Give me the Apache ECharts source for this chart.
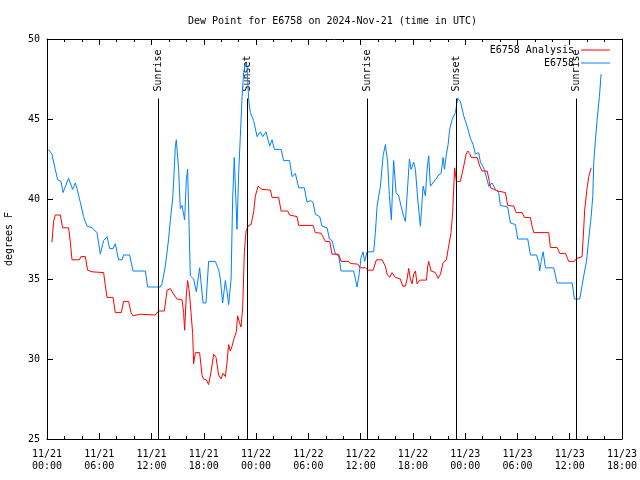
<!DOCTYPE html>
<html><head><meta charset="utf-8">
<script src="https://cdn.jsdelivr.net/npm/echarts@6/dist/echarts.min.js"></script>
<style>html,body{margin:0;padding:0;background:#fff}#c{width:640px;height:480px}</style>
</head><body><div id="c"></div>
<script>
// hours since 2024-11-21 00:00 UTC
const xTickLabels = ["11/21\n00:00","11/21\n06:00","11/21\n12:00","11/21\n18:00","11/22\n00:00","11/22\n06:00","11/22\n12:00","11/22\n18:00","11/23\n00:00","11/23\n06:00","11/23\n12:00","11/23\n18:00"];
const sunTimes = [12.81, 23.03, 36.81, 47.03, 60.80];
const sunNames = ["Sunrise","Sunset","Sunrise","Sunset","Sunrise"];
const sunLineTop = 46.28;

const obsHours = [0.18,0.57,0.95,1.22,1.61,1.84,2.48,2.94,3.25,3.44,3.82,4.20,4.59,5.17,5.74,6.12,6.50,6.89,7.19,7.58,7.84,8.22,8.61,8.79,9.48,9.87,11.29,11.55,13.01,13.20,13.58,13.96,14.16,14.42,14.53,14.73,14.84,15.11,15.30,15.50,15.61,15.80,15.99,16.14,16.30,16.45,16.83,17.14,17.52,17.91,18.25,18.55,19.32,19.70,19.90,20.16,20.47,20.67,20.85,21.13,21.31,21.50,21.62,21.81,22.00,22.19,22.39,22.57,22.77,22.96,23.15,23.34,23.72,24.11,24.49,24.75,25.14,25.56,25.83,26.10,26.87,27.16,27.85,28.13,28.51,28.89,29.54,29.85,30.23,30.54,30.80,31.30,31.57,32.15,32.41,32.72,32.90,33.10,33.48,33.75,35.20,35.40,35.59,35.78,36.05,36.28,36.46,36.74,37.50,37.69,37.89,38.27,38.58,38.84,39.10,39.30,39.53,39.79,40.07,40.37,40.64,40.94,41.14,41.60,41.79,42.09,42.29,42.55,42.86,43.17,43.43,43.63,43.81,44.01,44.58,44.96,45.24,45.47,45.62,45.84,46.04,46.22,46.50,46.88,47.14,47.45,47.83,48.22,48.60,48.91,49.17,49.55,49.75,50.13,50.52,50.70,51.09,51.47,51.85,52.04,52.88,53.19,53.77,54.03,55.18,55.49,56.18,56.44,56.55,56.72,56.95,57.21,58.16,58.55,60.28,60.54,61.15,61.42,61.61,61.92,62.18,62.46,62.65,62.76,62.95,63.15,63.41,63.60];
const obsValues = [43.1,42.8,41.85,41.2,41.1,40.4,41.3,40.6,41.0,40.65,39.8,38.9,38.3,38.2,37.9,36.55,37.4,37.65,36.9,36.9,37.2,36.2,36.2,36.5,36.5,35.5,35.5,34.5,34.5,34.7,35.8,37.5,38.7,40.0,41.0,43.3,43.7,41.85,39.4,39.6,39.25,38.7,41.2,41.85,38.5,35.2,35.0,34.2,35.7,33.5,33.5,36.1,36.1,35.6,35.0,33.5,34.9,34.2,33.4,35.0,40.0,42.6,40.8,38.1,41.6,43.9,46.4,47.9,48.5,48.3,46.2,45.4,44.9,43.9,44.2,43.9,44.2,43.3,43.7,43.1,43.1,42.4,42.4,41.4,41.6,40.7,40.7,39.8,39.9,39.8,39.05,38.9,38.3,38.2,37.5,37.4,37.0,36.55,36.45,35.5,35.5,35.0,34.5,35.1,36.35,36.7,36.1,36.7,36.7,37.9,39.55,40.8,42.7,43.4,42.3,40.2,38.7,42.4,40.4,40.2,39.55,38.9,38.6,42.5,41.85,42.3,41.85,40.0,38.3,40.8,40.2,41.85,42.7,40.8,41.2,41.5,41.6,42.6,41.85,42.8,43.4,44.35,44.97,45.4,46.3,46.1,45.2,44.55,43.8,43.4,42.8,42.9,42.3,41.95,41.2,40.8,41.0,40.6,40.4,39.6,39.5,38.5,38.4,37.5,37.5,36.5,36.5,36.05,35.5,36.1,36.7,35.7,35.7,34.75,34.75,33.75,33.75,34.6,35.2,36.1,37.5,38.9,40.2,42.3,43.7,45.0,46.4,47.8];

const anaHours = [0.57,0.76,0.95,1.53,1.79,2.48,2.68,2.87,3.71,3.90,4.40,4.66,5.17,6.50,6.69,6.89,7.58,7.84,8.53,8.79,9.37,9.64,9.87,10.71,12.43,12.81,13.47,13.78,14.16,14.53,14.93,15.50,15.68,15.80,15.99,16.14,16.34,16.53,16.72,16.83,17.03,17.52,17.80,17.98,18.29,18.55,18.83,19.13,19.40,19.70,19.98,20.21,20.47,20.67,20.85,21.04,21.24,21.42,21.73,21.88,22.08,22.27,22.46,22.65,22.85,23.15,23.42,23.72,23.92,24.23,24.68,25.64,25.83,26.59,26.87,27.62,27.85,28.70,28.89,30.54,30.80,31.46,31.95,32.45,32.72,33.48,33.75,34.63,34.82,35.66,35.97,36.54,36.85,37.43,37.81,38.46,38.84,39.04,39.33,39.61,39.99,40.56,40.83,41.14,41.33,41.52,41.71,41.91,42.09,42.29,42.48,42.78,43.55,43.70,43.81,44.09,44.58,44.89,45.16,45.47,45.84,46.11,46.38,46.56,46.79,46.99,47.45,47.65,47.83,48.11,48.29,48.52,48.68,49.37,49.67,49.94,50.52,50.78,50.90,51.73,52.62,52.88,53.57,53.85,54.54,54.80,55.49,55.68,55.87,57.59,57.78,58.55,58.85,59.51,59.70,59.88,60.54,60.77,61.42,61.61,61.72,62.00,62.18,62.46];
const anaValues = [37.3,38.6,39.0,39.0,38.2,38.2,37.3,36.2,36.2,36.4,36.4,35.55,35.45,35.4,34.6,33.85,33.85,32.9,32.9,33.6,33.6,32.9,32.7,32.8,32.75,33.0,33.0,34.3,34.4,34.05,33.75,33.7,32.9,31.8,34.0,34.9,34.2,32.9,31.6,29.7,30.4,30.4,28.96,28.75,28.7,28.4,29.2,30.3,30.1,29.0,28.75,29.1,28.9,29.8,30.9,30.5,30.8,31.2,31.7,32.7,32.3,32.0,33.2,36.65,38.0,38.35,38.4,39.2,40.2,40.8,40.6,40.56,40.1,40.1,39.25,39.25,39.0,38.9,38.35,38.35,37.9,37.86,37.35,37.35,36.55,36.55,36.1,36.1,35.97,35.93,35.7,35.7,35.55,35.55,36.2,36.2,35.8,35.3,35.1,35.4,35.1,35.0,34.55,34.55,35.0,35.66,35.0,34.7,35.3,35.5,34.7,34.93,34.93,35.8,36.1,35.5,35.4,35.04,35.3,36.03,36.2,37.07,37.9,39.15,41.95,41.1,41.1,41.6,42.05,42.8,43.0,42.85,42.6,42.6,42.05,41.75,41.75,41.1,40.7,40.5,40.4,39.6,39.56,39.15,39.15,38.84,38.84,38.3,37.9,37.9,36.97,36.97,36.6,36.6,36.35,36.1,36.1,36.28,36.4,38.2,39.36,40.7,41.4,41.95];

const zip = (a, b) => a.map((v, i) => [v, b[i]]);
const FONT = "'DejaVu Sans Mono', 'Liberation Mono', monospace";
const txt = {color: '#000', fontFamily: FONT, fontSize: 10};

const xBase = {
  type: 'value', min: 0, max: 66, interval: 6,
  axisLine: {show: true, onZero: false, lineStyle: {color: '#000', width: 1}},
  axisTick: {show: true, inside: true, length: 6, lineStyle: {color: '#000'}},
  minorTick: {show: true, splitNumber: 3, length: 3, lineStyle: {color: '#000'}},
  splitLine: {show: false}, minorSplitLine: {show: false}
};
const yBase = {
  type: 'value', min: 25, max: 50, interval: 5,
  axisLine: {show: true, onZero: false, lineStyle: {color: '#000', width: 1}},
  axisTick: {show: true, inside: true, length: 6, lineStyle: {color: '#000'}},
  splitLine: {show: false}
};
const legendBase = {right: 30, align: 'right', icon: 'rect', itemWidth: 29, itemHeight: 1,
  textStyle: Object.assign({}, txt, {padding: [0, 2, 0, 0]}), selectedMode: false, padding: 0};

const chart = echarts.init(document.getElementById('c'), null, {renderer: 'canvas'});
chart.setOption({
  animation: false,
  backgroundColor: '#fff',
  title: {text: 'Dew Point for E6758 on 2024-Nov-21 (time in UTC)', left: 188, top: 15, padding: 0,
    textStyle: Object.assign({}, txt, {fontWeight: 'normal', lineHeight: 12})},
  grid: {left: 47, right: 18, top: 39, bottom: 41, containLabel: false, outerBoundsMode: 'none'},
  legend: [
    Object.assign({}, legendBase, {data: ['E6758 Analysis'], top: 45}),
    Object.assign({}, legendBase, {data: ['E6758'], top: 58})
  ],
  xAxis: [
    Object.assign({}, xBase, {position: 'bottom',
      axisLabel: Object.assign({}, txt, {margin: 9, lineHeight: 12,
        formatter: v => xTickLabels[Math.round(v / 6)]})}),
    Object.assign({}, xBase, {position: 'top', axisLabel: {show: false}})
  ],
  yAxis: [
    Object.assign({}, yBase, {position: 'left', name: 'degrees F', nameLocation: 'middle', nameGap: 33,
      nameRotate: 90, nameTextStyle: txt, axisLabel: Object.assign({}, txt, {margin: 7})}),
    Object.assign({}, yBase, {position: 'right', axisLabel: {show: false}})
  ],
  series: [
    {name: 'E6758 Analysis', type: 'line', data: zip(anaHours, anaValues), showSymbol: false, symbol: 'none',
     lineStyle: {color: '#ff0000', width: 1}, itemStyle: {color: '#ff0000'}, z: 3},
    {name: 'E6758', type: 'line', data: zip(obsHours, obsValues), showSymbol: false, symbol: 'none',
     lineStyle: {color: '#0080ff', width: 1}, itemStyle: {color: '#0080ff'}, z: 2},
    {name: 'sun', type: 'scatter', symbolSize: 0, silent: true, z: 1,
     itemStyle: {opacity: 1, color: '#000'},
     data: sunTimes.map((t, i) => ({value: [t, sunLineTop], name: sunNames[i]})),
     label: {show: true, formatter: p => p.name, position: 'top', distance: 7, rotate: 90,
       align: 'left', verticalAlign: 'middle', color: '#000', opacity: 1, fontFamily: FONT, fontSize: 10},
     markLine: {silent: true, symbol: ['none', 'none'], label: {show: false},
       lineStyle: {color: '#000', width: 1, type: 'solid', opacity: 1},
       data: sunTimes.map(t => [{coord: [t, 25]}, {coord: [t, sunLineTop]}])}}
  ]
});
</script></body></html>
